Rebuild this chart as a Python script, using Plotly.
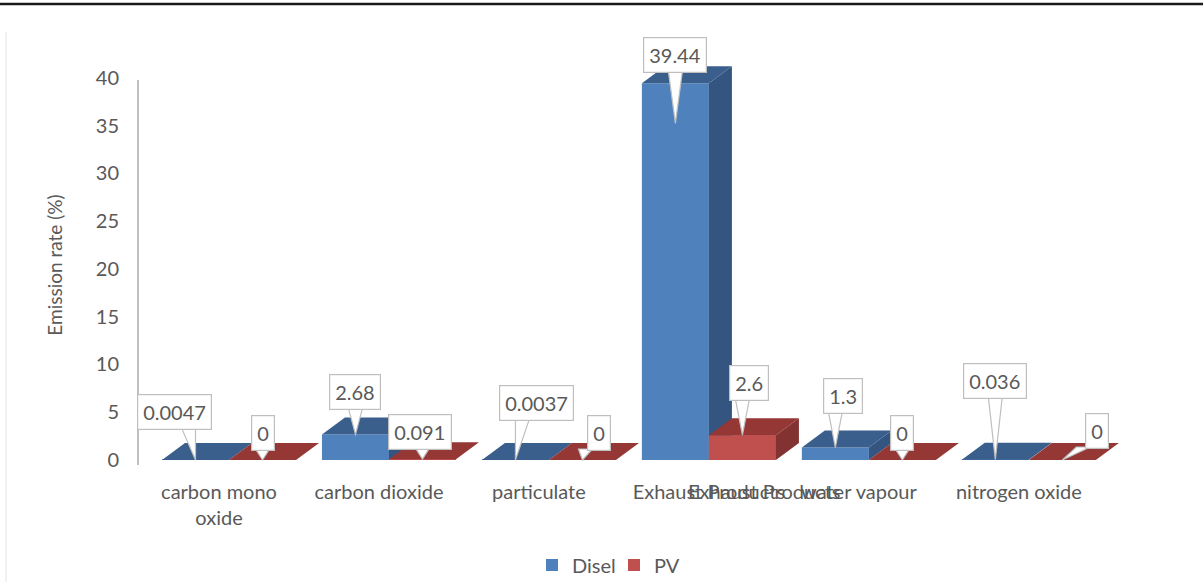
import plotly.graph_objects as go

# ---- data -------------------------------------------------------------
categories = ["carbon mono oxide", "carbon dioxide", "particulate",
              "Exhaust Products", "water vapour", "nitrogen oxide"]
tick_labels = ["carbon mono<br>oxide", "carbon dioxide", "particulate",
               "Exhaust Products", "water vapour", "nitrogen oxide"]
disel = [0.0047, 2.68, 0.0037, 39.44, 1.3, 0.036]
pv = [0, 0.091, 0, 2.6, 0, 0]
y_ticks = [0, 5, 10, 15, 20, 25, 30, 35, 40]

# ---- geometry / styling -----------------------------------------------
W, H = 1203, 582
L, R, T, B = 138, 83, 60, 112
plot_w, plot_h = W - L - R, H - T - B
x_range = [-0.569, 5.57]
y_range = [-1.047, 41.88]
px_per_x = plot_w / (x_range[1] - x_range[0])
px_per_y = plot_h / (y_range[1] - y_range[0])

BAR_W = 0.419            # width of one bar (category units)
DEPTH_X = 23 / px_per_x  # 3-D depth offset, horizontal
DEPTH_Y = 17 / px_per_y  # 3-D depth offset, vertical
TICK_SHIFT = [-0.0625, -0.0625, -0.0625, 0.0, -0.0625, -0.0625]

FONT = "Lato"
GREY_TXT = "#595959"
COLORS = {
    "Disel": dict(front="#4F81BD", top="#3A5F8D", side="#33557F"),
    "PV": dict(front="#C0504D", top="#953735", side="#823230"),
}

fig = go.Figure()

# front faces as bars (each series in its own legend box)
for name, vals, off, lg in [("Disel", disel, -BAR_W, "legend"), ("PV", pv, 0.0, "legend2")]:
    fig.add_trace(go.Bar(
        x=list(range(len(categories))), y=vals, name=name, legend=lg,
        width=BAR_W, offset=off,
        marker=dict(color=COLORS[name]["front"], line=dict(width=0)),
        hoverinfo="skip",
    ))


def faces(vals, off):
    """Polygons for the top, side and front faces of each bar."""
    tops_x, tops_y, side_x, side_y, fr_x, fr_y = [], [], [], [], [], []
    for i, v in enumerate(vals):
        x0 = i + off
        x1 = x0 + BAR_W
        tops_x += [x0, x1, x1 + DEPTH_X, x0 + DEPTH_X, x0, None]
        tops_y += [v, v, v + DEPTH_Y, v + DEPTH_Y, v, None]
        side_x += [x1, x1 + DEPTH_X, x1 + DEPTH_X, x1, x1, None]
        side_y += [0, DEPTH_Y, v + DEPTH_Y, v, 0, None]
        fr_x += [x0, x1, x1, x0, x0, None]
        fr_y += [0, 0, v, v, 0, None]
    return (tops_x, tops_y), (side_x, side_y), (fr_x, fr_y)


def poly(xy, color):
    return go.Scatter(x=xy[0], y=xy[1], mode="lines", fill="toself", fillcolor=color,
                      line=dict(width=0, color=color), showlegend=False, hoverinfo="skip")


for name, vals, off in [("Disel", disel, -BAR_W), ("PV", pv, 0.0)]:
    top, side, front = faces(vals, off)
    if name == "PV":
        # PV front sits in front of the Disel side face
        fig.add_trace(poly(front, COLORS[name]["front"]))
    fig.add_trace(poly(side, COLORS[name]["side"]))
    fig.add_trace(poly(top, COLORS[name]["top"]))

# ---- callout labels ---------------------------------------------------
# (box centre offset dx, dy in px from the bar top; pointer tip drop in px)
callouts_disel = [(-21, 48, 0), (0, 42, 0), (21, 57, 0), (0, 28, 40), (8, 52, 0), (0, 79, 0)]
callouts_pv = [(0, 27, 0), (-2, 27, 0), (17, 27, 0), (7, 52, 0), (0, 27, 0), (35, 29, 0)]

BOX_H = 36
shapes = []
annotations = []
for vals, off, specs in [(disel, -BAR_W, callouts_disel), (pv, 0.0, callouts_pv)]:
    for i, (v, (dx, dy, drop)) in enumerate(zip(vals, specs)):
        xc = i + off + BAR_W / 2
        tip_y = -drop
        base_y = dy - BOX_H / 2 + 2
        bc = max(min(0, dx + 14), dx - 14)
        shapes.append(dict(
            type="path", xref="x", yref="y", xsizemode="pixel", ysizemode="pixel",
            xanchor=xc, yanchor=v,
            path=f"M 0,{tip_y} L {bc - 7},{base_y} L {bc + 7},{base_y} Z",
            fillcolor="white", line=dict(color="#BFBFBF", width=1.2), layer="above",
        ))
        annotations.append(dict(
            x=xc, y=v, xref="x", yref="y", xshift=dx, yshift=dy,
            text=f"{v:g}", showarrow=False, font=dict(family=FONT, size=20, color=GREY_TXT),
            bgcolor="white", bordercolor="#BFBFBF", borderwidth=1.2, borderpad=5,
            xanchor="center", yanchor="middle",
        ))

# overlapping second copy of the Exhaust Products label
annotations.append(dict(
    x=3 + TICK_SHIFT[3], y=0, xref="x", yref="paper", xshift=55, yshift=-21,
    text="Exhaust Products", showarrow=False, yanchor="middle",
    font=dict(family=FONT, size=20, color=GREY_TXT),
))

# value axis line
y_line_lo = -(465 - 460) / px_per_y
y_line_hi = (460 - 80) / px_per_y
shapes.append(dict(type="line", xref="paper", yref="y", x0=0, x1=0, y0=y_line_lo, y1=y_line_hi,
                   line=dict(color="#BFBFBF", width=2)))
# page rule at the top and faint border at the left
plot_bottom = T + plot_h
shapes.append(dict(type="line", xref="paper", yref="paper",
                   x0=-L / plot_w, x1=(W - L) / plot_w,
                   y0=(plot_bottom - 4) / plot_h, y1=(plot_bottom - 4) / plot_h,
                   line=dict(color="#1A1A1A", width=2.5)))
shapes.append(dict(type="line", xref="paper", yref="paper",
                   x0=(6 - L) / plot_w, x1=(6 - L) / plot_w,
                   y0=(plot_bottom - 32) / plot_h, y1=-B / plot_h,
                   line=dict(color="#EDEDED", width=1.5)))

legend_style = dict(orientation="h", xref="container", yref="container", xanchor="left",
                    y=1 - 565 / H, yanchor="middle", bgcolor="rgba(0,0,0,0)",
                    font=dict(family=FONT, size=20, color=GREY_TXT), itemwidth=30)

fig.update_layout(
    width=W, height=H,
    margin=dict(l=L, r=R, t=T, b=B, autoexpand=False),
    paper_bgcolor="white", plot_bgcolor="white",
    barmode="overlay",
    font=dict(family=FONT, color=GREY_TXT),
    showlegend=True,
    legend=dict(legend_style, x=532 / W),
    legend2=dict(legend_style, x=614 / W),
    xaxis=dict(range=x_range, showgrid=False, zeroline=False, showline=False,
               tickvals=[i + s for i, s in enumerate(TICK_SHIFT)], ticktext=tick_labels,
               tickfont=dict(family=FONT, size=20, color=GREY_TXT),
               ticks="outside", ticklen=4, tickcolor="rgba(0,0,0,0)"),
    yaxis=dict(range=y_range, showgrid=False, zeroline=False, showline=False,
               tickvals=y_ticks, tickfont=dict(family=FONT, size=20, color=GREY_TXT),
               ticks="outside", ticklen=14, tickcolor="rgba(0,0,0,0)",
               title=dict(text="Emission rate (%)", font=dict(family=FONT, size=19, color=GREY_TXT),
                          standoff=28)),
    shapes=shapes,
    annotations=annotations,
)

fig.write_html("out.html")
